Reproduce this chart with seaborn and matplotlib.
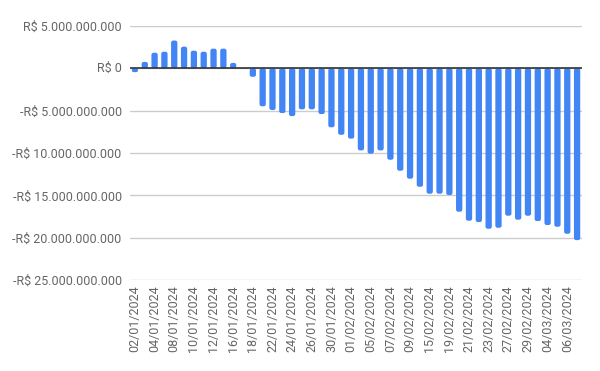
import numpy as np
import pandas as pd
import matplotlib
matplotlib.use("Agg")
import matplotlib.pyplot as plt
import seaborn as sns
from matplotlib.patches import FancyBboxPatch

# business days 02/01/2024 .. 07/03/2024 (no carnival 12-13/02)
dates = ["02/01/2024", "03/01/2024", "04/01/2024", "05/01/2024", "08/01/2024",
         "09/01/2024", "10/01/2024", "11/01/2024", "12/01/2024", "15/01/2024",
         "16/01/2024", "17/01/2024", "18/01/2024", "19/01/2024", "22/01/2024",
         "23/01/2024", "24/01/2024", "25/01/2024", "26/01/2024", "29/01/2024",
         "30/01/2024", "31/01/2024", "01/02/2024", "02/02/2024", "05/02/2024",
         "06/02/2024", "07/02/2024", "08/02/2024", "09/02/2024", "14/02/2024",
         "15/02/2024", "16/02/2024", "19/02/2024", "20/02/2024", "21/02/2024",
         "22/02/2024", "23/02/2024", "26/02/2024", "27/02/2024", "28/02/2024",
         "29/02/2024", "01/03/2024", "04/03/2024", "05/03/2024", "06/03/2024",
         "07/03/2024"]

# saldo in billions of R$
saldo_bi = [-0.45, 0.76, 1.84, 1.96, 3.28, 2.56, 2.08, 1.96, 2.32, 2.32,
            0.64, -0.05, -1.0, -4.48, -4.92, -5.28, -5.64, -4.84, -4.84, -5.4,
            -6.96, -7.85, -8.3, -9.69, -10.08, -9.69, -10.79, -12.09, -13.03, -13.98,
            -14.8, -14.8, -14.96, -16.93, -17.99, -18.15, -18.94, -18.82, -17.4, -17.87,
            -17.4, -18.03, -18.5, -18.7, -19.53, -20.28]

yticks = [-25e9, -20e9, -15e9, -10e9, -5e9, 0, 5e9]
ytick_labels = ["-R$ 25.000.000.000", "-R$ 20.000.000.000", "-R$ 15.000.000.000",
                "-R$ 10.000.000.000", "-R$ 5.000.000.000", "R$ 0", "R$ 5.000.000.000"]

df = pd.DataFrame({"data": dates, "saldo": np.array(saldo_bi) * 1e9})

sns.set_style("white")
plt.rcParams["font.family"] = ["Roboto", "DejaVu Sans"]

fig = plt.figure(figsize=(6, 3.71), dpi=100)
ax = fig.add_axes([0.2167, 0.245, 0.7533, 0.685])

sns.barplot(data=df, x="data", y="saldo", color="#4285F4", saturation=1,
            width=0.64, ax=ax, zorder=3)

ax.set_ylim(-25e9, 5e9)
ax.set_yticks(yticks)
# the zero label is written separately below (tick version got lost)
ax.set_yticklabels([lb if v != 0 else "" for v, lb in zip(yticks, ytick_labels)])
ax.set_xlim(-0.5, len(dates) - 0.5)
ax.set_xticks(range(0, len(dates), 2))
ax.set_xticklabels(dates[::2], rotation=90)

# rounded bar ends like google charts
fig.canvas.draw()
bb = ax.get_window_extent()
x_per_px = len(dates) / bb.width
y_per_px = 30e9 / bb.height
aspect = y_per_px / x_per_px
for p in list(ax.patches):
    x, y = p.get_xy()
    w, h = p.get_width(), p.get_height()
    y0 = min(y, y + h)
    hh = abs(h)
    rs = min(0.22, w / 2, hh / aspect / 2)
    if rs <= 0:
        continue
    fb = FancyBboxPatch((x, y0), w, hh, boxstyle="round,pad=0,rounding_size=%f" % rs,
                        mutation_aspect=aspect, fc="#4285F4", ec="none", zorder=3)
    p.remove()
    ax.add_patch(fb)

ax.grid(axis="y", color="#cccccc", linewidth=1, zorder=0)
ax.axhline(0, color="#333333", linewidth=1.2, zorder=4)
for s in ax.spines.values():
    s.set_visible(False)
ax.tick_params(axis="both", length=0, labelsize=9, colors="#666666")
ax.tick_params(axis="y", pad=6)
ax.tick_params(axis="x", pad=4)
ax.set_xlabel("")
ax.set_ylabel("")

zero_label = ytick_labels[yticks.index(0)]
ax.text(-0.5 - 8.5 / 9.83, 0, zero_label, ha="right", va="center", fontsize=9,
        color="#666666", clip_on=False, zorder=20)

fig.savefig("out.png", dpi=100)
